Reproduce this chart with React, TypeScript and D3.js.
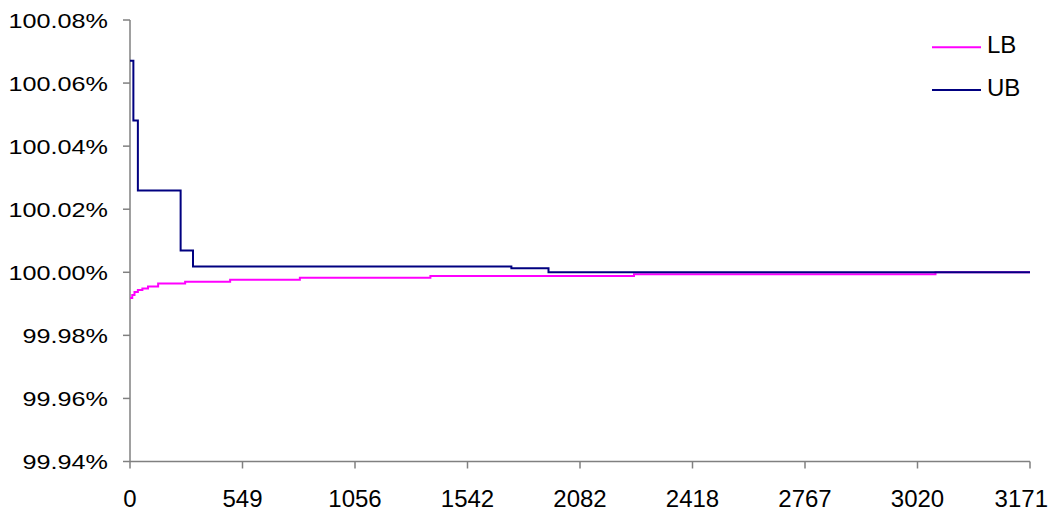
import React from "react";
import * as d3 from "d3";

const xTickLabels = ["0", "549", "1056", "1542", "2082", "2418", "2767", "3020", "3171"];
const categoriesPerLabel = 100;

const yTicks = [99.94, 99.96, 99.98, 100.0, 100.02, 100.04, 100.06, 100.08];

const lbIndex = [0, 2, 4, 7, 11, 16, 25, 49, 89, 151, 267, 448, 716, 800];
const lbValue = [99.99182, 99.99277, 99.99372, 99.99436, 99.99483, 99.99547, 99.99642, 99.99696, 99.99762, 99.99823, 99.9988, 99.99937, 100.0, 100.0];

const ubIndex = [0, 3, 7, 45, 56, 339, 372, 800];
const ubValue = [100.0671, 100.0481, 100.0259, 100.00688, 100.0018, 100.0013, 100.0, 100.0];

const seriesNames = ["LB", "UB"];
const seriesColors = ["#FF00FF", "#000080"];

const W = 1052;
const H = 512;
const left = 130;
const right = 1030;
const top = 20;
const bottom = 461.5;
const SX = 1.26;
const FONT = "'Liberation Sans', Arial, sans-serif";

export default function App() {
  const nCat = categoriesPerLabel * (xTickLabels.length - 1);
  const x = d3.scaleLinear().domain([0, nCat]).range([left, right]);
  const y = d3.scaleLinear().domain([99.94, 100.08]).range([bottom, top]);
  const line = d3
    .line<[number, number]>()
    .x((d) => x(d[0]))
    .y((d) => y(d[1]))
    .curve(d3.curveStepAfter);

  const lb = lbIndex.map((i, k) => [i, lbValue[k]] as [number, number]);
  const ub = ubIndex.map((i, k) => [i, ubValue[k]] as [number, number]);
  const series = [lb, ub];

  return (
    <svg
      width={W}
      height={H}
      style={{ position: "absolute", left: 0, top: 0, background: "#fff" }}
      fontFamily={FONT}
    >
      {/* y axis */}
      <line x1={left} x2={left} y1={top} y2={bottom} stroke="#808080" strokeWidth={1.5} />
      {yTicks.map((t) => (
        <g key={t}>
          <line x1={left - 7} x2={left} y1={y(t)} y2={y(t)} stroke="#808080" strokeWidth={1.5} />
          <text
            transform={`translate(108,${y(t) + 7.5}) scale(${SX},1)`}
            textAnchor="end"
            fontSize={20}
            fill="#000"
          >
            {t.toFixed(2) + "%"}
          </text>
        </g>
      ))}
      {/* x axis */}
      <line x1={left} x2={right} y1={bottom} y2={bottom} stroke="#808080" strokeWidth={1.5} />
      {xTickLabels.map((lab, k) => {
        const xi = x(k * categoriesPerLabel);
        const last = k === xTickLabels.length - 1;
        return (
          <g key={lab}>
            <line x1={xi} x2={xi} y1={bottom} y2={bottom + 7} stroke="#808080" strokeWidth={1.5} />
            <text
              x={last ? 1048 : xi}
              y={bottom + 45}
              textAnchor={last ? "end" : "middle"}
              fontSize={24}
              fill="#000"
            >
              {lab}
            </text>
          </g>
        );
      })}
      {/* series */}
      {series.map((s, k) => (
        <path key={k} d={line(s) || ""} fill="none" stroke={seriesColors[k]} strokeWidth={2} />
      ))}
      {/* legend */}
      {seriesNames.map((name, k) => {
        const ly = 47.3 + k * 42.7;
        return (
          <g key={name}>
            <line x1={932} x2={981} y1={ly} y2={ly} stroke={seriesColors[k]} strokeWidth={2} />
            <text x={987} y={ly + 6} fontSize={24} fill="#000">
              {name}
            </text>
          </g>
        );
      })}
    </svg>
  );
}
